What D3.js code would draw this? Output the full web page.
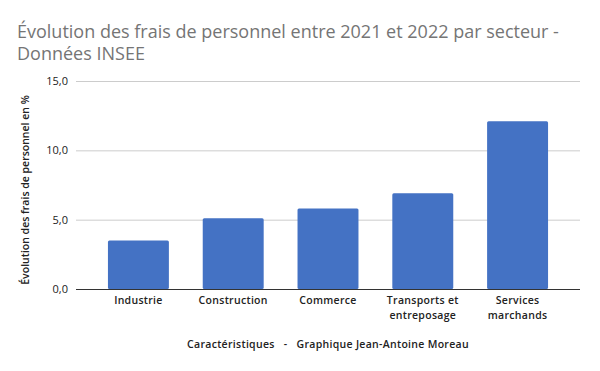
<!DOCTYPE html>
<html><head><meta charset="utf-8">
<script src="https://cdn.jsdelivr.net/npm/d3@7"></script>
<style>body{margin:0;background:#fff}svg{display:block}</style>
</head><body><svg id="c" width="600" height="371"></svg>
<script>
const categories = [["Industrie"],["Construction"],["Commerce"],["Transports et","entreposage"],["Services","marchands"]];
const values = [3.5, 5.1, 5.8, 6.9, 12.1];
const yTicks = [0, 5, 10, 15];
const titleLines = ["Évolution des frais de personnel entre 2021 et 2022 par secteur -", "Données INSEE"];
const yTitle = "Évolution des frais de personnel en %";
const xTitle = "Caractéristiques   -   Graphique Jean-Antoine Moreau";

const svg = d3.select("#c");
const font = "'Open Sans', sans-serif";
const m = {l:76, r:580, t:81, b:289};
const x = d3.scaleBand().domain(d3.range(values.length)).range([m.l, m.r]).paddingInner(0.357).paddingOuter(0.337);
const y = d3.scaleLinear().domain([0,15]).range([m.b, m.t]);

svg.append("g").selectAll("text").data(titleLines).join("text")
  .attr("x", 17).attr("y", (d,i)=>38+i*22)
  .attr("font-family", font).attr("font-size", 18).attr("fill", "#757575").text(d=>d);

const ya = svg.append("g").attr("transform", `translate(${m.l},0)`)
  .call(d3.axisLeft(y).tickValues(yTicks).tickSize(-(m.r-m.l)).tickPadding(8)
    .tickFormat(d=>d3.format(".1f")(d).replace(".", ",")));
ya.select(".domain").remove();
ya.selectAll(".tick line").attr("stroke", "#cccccc");
ya.selectAll(".tick text").attr("font-family", font).attr("font-size", 11).attr("fill", "#222");

svg.append("g").selectAll("rect").data(values).join("rect")
  .attr("x", (d,i)=>x(i)).attr("width", x.bandwidth())
  .attr("y", d=>y(d)).attr("height", d=>y(0)-y(d))
  .attr("fill", "#4472c4").attr("rx", 1.5);

svg.append("line").attr("x1", m.l).attr("x2", m.r).attr("y1", y(0)+0.5).attr("y2", y(0)+0.5)
  .attr("stroke", "#333").attr("stroke-width", 1);

const xl = svg.append("g").selectAll("text").data(categories).join("text")
  .attr("x", (d,i)=>x(i)+x.bandwidth()/2).attr("y", 304)
  .attr("text-anchor", "middle").attr("font-family", font).attr("font-size", 10.5)
  .attr("font-weight", 600).attr("letter-spacing", 0.3).attr("fill", "#222");
xl.selectAll("tspan").data(d=>d).join("tspan")
  .attr("x", function(){return this.parentNode.getAttribute("x");})
  .attr("dy", (d,i)=>i?15:0).text(d=>d);

svg.append("text").attr("x", 328).attr("y", 348).attr("text-anchor", "middle")
  .attr("font-family", font).attr("font-size", 10.5).attr("font-weight", 600)
  .attr("letter-spacing", 0.3).attr("fill", "#222")
  .style("white-space","pre").text(xTitle);

svg.append("text").attr("transform", `translate(29,${(m.t+m.b)/2+5}) rotate(-90)`)
  .attr("text-anchor", "middle").attr("font-family", font).attr("font-size", 10.5)
  .attr("font-weight", 600).attr("fill", "#222").text(yTitle);
</script></body></html>
